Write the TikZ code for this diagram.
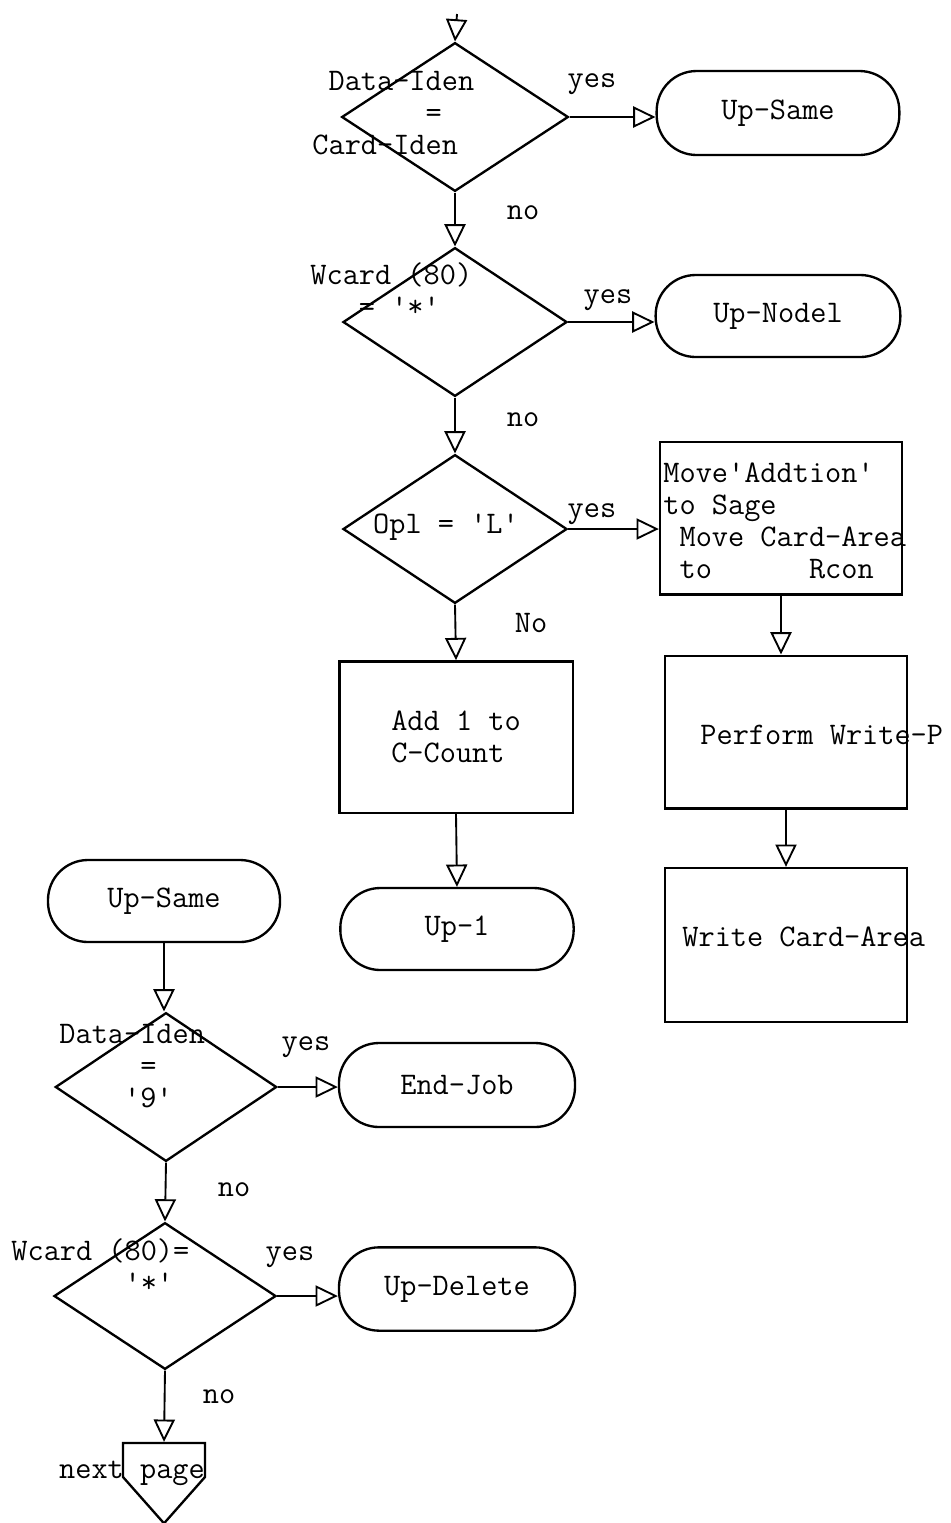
\documentclass[tikz,border=0pt]{standalone}
\usetikzlibrary{arrows.meta,positioning,shapes.geometric,shapes.symbols}
\newcommand{\typq}{\textquotesingle}

\begin{document}
\begin{tikzpicture}[
  x=0.15mm, y=-0.15mm,
  every node/.style={font=\ttfamily\fontsize{13.4}{13.6}\selectfont},
  decide/.style={diamond, draw, line width=1pt, inner sep=0pt, minimum width=33.6mm, minimum height=22.3mm},
  procbox/.style={rectangle, draw, line width=1pt, inner sep=0pt, align=left,
                  minimum width=36.3mm, minimum height=22.9mm},
  termbox/.style={rectangle, draw, line width=1pt, rounded corners=6mm, inner sep=0pt,
                  minimum width=35mm, minimum height=12.4mm},
  offpage/.style={signal, draw, line width=1pt, signal to=south, signal from=nowhere,
                  inner sep=0pt, minimum width=12.3mm, minimum height=5.1mm, signal pointer angle=83},
  txt/.style={inner sep=0pt, align=left},
  lbl/.style={inner sep=0pt},
  flow/.style={-{Triangle[open, length=9.5pt, width=9pt]}, line width=0.8pt},
]
  \useasboundingbox (0,0) rectangle (951,1523);

  % main column
  \coordinate (start) at (457,14);
  \node[decide, minimum width=34mm] (dataeq) at (455,117) {};
  \node[txt, anchor=west] (dataeqtext) at (312,113) {~Data-Iden\\~~~~~~~=\\Card-Iden};
  \node[termbox, minimum width=36.4mm, minimum height=12.6mm] (upsame) at (778,113) {Up-Same};
  \node[lbl] (yes1) at (592,84) {yes};
  \draw[flow] (start) -- (dataeq.north);
  \draw[flow] (dataeq.east) -- (dataeq.east -| upsame.west);

  \node[decide] (wcard) at (455,322) {};
  \node[txt, anchor=west] (wcardtext) at (310,290) {Wcard (80)\\~~~= \typq*\typq};
  \node[termbox, minimum width=36.7mm, minimum height=12.3mm] (upnodel) at (778,316) {Up-Nodel};
  \node[lbl] (no1) at (523,213) {no};
  \node[lbl] (yes2) at (608,300) {yes};
  \draw[flow] (dataeq.south) -- (wcard.north);
  \draw[flow] (wcard.east) -- (wcard.east -| upnodel.west);

  \node[decide] (opl) at (455,529) {};
  \node[lbl] (opltext) at (446,527) {Opl = \typq L\typq};
  \node[procbox] (moveadd) at (781,518) {};
  \node[txt, anchor=west] (moveaddtext) at (663,521)
    {Move\typq Addtion\typq\\to Sage\\~Move Card-Area\\~to~~~~~~Rcon};
  \node[lbl] (no2) at (523,420) {no};
  \node[lbl] (yes3) at (592,514) {yes};
  \draw[flow] (wcard.south) -- (opl.north);
  \draw[flow] (opl.east) -- (opl.east -| moveadd.west);

  \node[procbox, minimum width=35mm, minimum height=22.7mm] (addone) at (456,737) {Add 1 to\\C-Count};
  \node[termbox, minimum height=12.3mm] (upone) at (457,929) {Up-1};
  \node[lbl] (no3) at (531,623) {No};
  \draw[flow] (opl.south) -- (addone.north);
  \draw[flow] (addone.south) -- (upone.north);

  % right column
  \node[procbox] (perform) at (786,732) {};
  \node[txt, anchor=west] (performtext) at (700,735) {Perform Write-P};
  \node[procbox, minimum height=23.1mm] (writecard) at (786,945) {};
  \node[txt, anchor=west] (writecardtext) at (682,937) {Write Card-Area};
  \draw[flow] (moveadd.south) -- (moveadd.south |- perform.north);
  \draw[flow] (perform.south) -- (writecard.north);

  % left column
  \node[termbox, minimum width=34.8mm, minimum height=12.3mm] (upsameb) at (164,901) {Up-Same};
  \node[decide, minimum width=33.2mm] (dataend) at (166,1087) {};
  \node[txt, anchor=west] (dataendtext) at (59,1066)
    {Data-Iden\\~~~~~=\\~~~~\typq 9\typq};
  \node[termbox, minimum width=35.4mm, minimum height=12.6mm] (endjob) at (457,1085) {End-Job};
  \node[lbl] (yes4) at (306,1047) {yes};
  \draw[flow] (upsameb.south) -- (upsameb.south |- dataend.north);
  \draw[flow] (dataend.east) -- (dataend.east -| endjob.west);

  \node[decide, minimum width=33.3mm, minimum height=22mm] (wcarddel) at (165,1296) {};
  \node[txt, anchor=west] (wcarddeltext) at (11,1266) {Wcard (80)=\\~~~~~~~\typq*\typq};
  \node[termbox, minimum width=35.4mm, minimum height=12.5mm] (updel) at (457,1289) {Up-Delete};
  \node[lbl] (no4) at (234,1190) {no};
  \node[lbl] (yes5) at (290,1257) {yes};
  \draw[flow] (dataend.south) -- (wcarddel.north);
  \draw[flow] (wcarddel.east) -- (wcarddel.east -| updel.west);

  \node[offpage] (nextpg) at (164,1460) {};
  \node[lbl] (nextpgtext) at (132,1473) {next page};
  \node[lbl] (no5) at (219,1397) {no};
  \draw[flow] (wcarddel.south) -- (nextpg.north);
\end{tikzpicture}
\end{document}
